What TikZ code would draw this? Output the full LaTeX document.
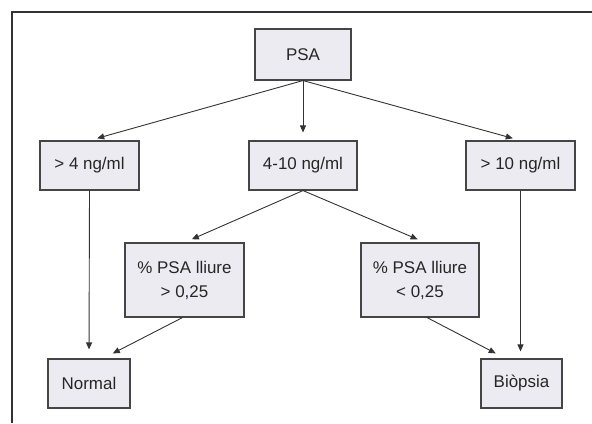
\documentclass[tikz,border=0pt]{standalone}
\usepackage{fontspec}
\setmainfont{Liberation Sans}
\usetikzlibrary{arrows.meta, positioning}
\definecolor{boxfill}{HTML}{EBEBF1}
\definecolor{boxline}{HTML}{454545}
\definecolor{inkline}{HTML}{333333}

\begin{document}
\begin{tikzpicture}[x=1bp, y=-1bp,
    box/.style={draw=boxline, line width=1.1bp, fill=boxfill, inner sep=0pt,
      align=center, font=\fontsize{17}{24}\selectfont, text=black!85},
    arr/.style={draw=inkline, line width=0.9bp, -{Triangle[length=7bp,width=6bp]}, shorten >=8bp}]
        \useasboundingbox (0,0) rectangle (592,423);

        % frame
        \draw[line width=2bp, black!80] (12,423) -- (12,12) -- (592,12);

        \node[box, minimum width=96bp, minimum height=51bp] (psa) at (303,54.5) {PSA};

        \node[box, minimum width=99bp, minimum height=49bp] (low) at (89.5,165.5) {> 4 ng/ml};
        \node[box, minimum width=108bp, minimum height=49bp] (mid) at (303,165.5) {4-10 ng/ml};
        \node[box, minimum width=109bp, minimum height=49bp] (high) at (520.5,165.5) {> 10 ng/ml};

        \node[box, minimum width=119bp, minimum height=74bp] (freehi) at (184.5,280) {\% PSA lliure\\> 0,25};
        \node[box, minimum width=118bp, minimum height=74bp] (freelo) at (420,280) {\% PSA lliure\\< 0,25};

        \node[box, minimum width=82bp, minimum height=49bp] (normal) at (89,383.5) {Normal};
        \node[box, minimum width=81bp, minimum height=49bp] (biopsia) at (521.5,383.5) {Biòpsia};

        \draw[arr] (psa.south) -- (low.north);
        \draw[arr] (psa.south) -- (mid.north);
        \draw[arr] (psa.south) -- (high.north);

        \draw[arr] (mid.south) -- (freehi.north);
        \draw[arr] (mid.south) -- ([xshift=5bp]freelo.north);

        \draw[arr, shorten >=9bp] (low.south) -- (normal.north);
        \draw[arr, shorten >=11bp] ([xshift=-2bp]freehi.south) -- ([xshift=14bp]normal.north);
        \draw[arr, shorten >=11bp] ([xshift=7bp]freelo.south) -- ([xshift=-16bp]biopsia.north);
        \draw[arr, shorten >=7bp] (high.south) -- ([xshift=-1bp]biopsia.north);
    \end{tikzpicture}
\end{document}
